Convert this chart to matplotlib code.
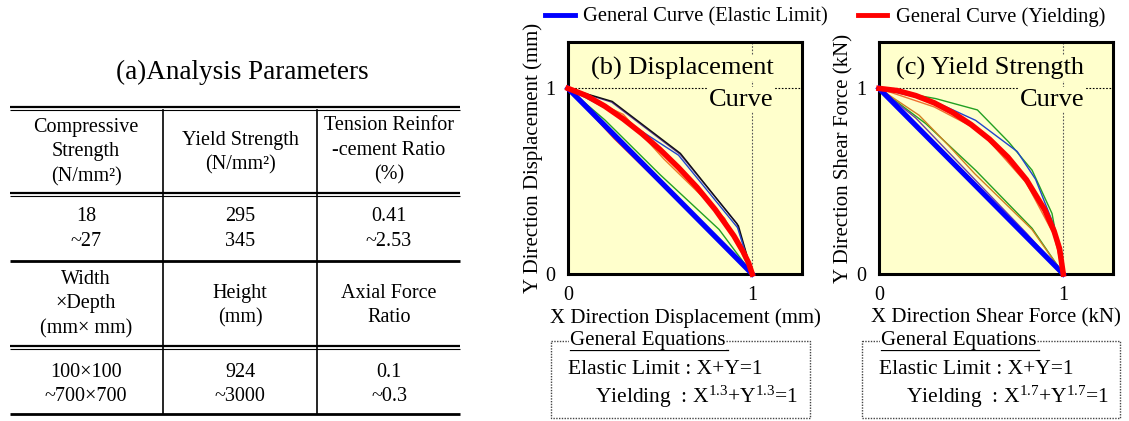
import matplotlib
matplotlib.use('Agg')
import matplotlib.pyplot as plt
from matplotlib.lines import Line2D
from matplotlib.patches import Rectangle

plt.rcParams['font.family'] = ['Liberation Serif', 'DejaVu Serif']
plt.rcParams['mathtext.fontset'] = 'custom'
plt.rcParams['mathtext.rm'] = 'Liberation Serif'
plt.rcParams['mathtext.it'] = 'Liberation Serif'

# ---- table data (a) ----
table_title = '(a)Analysis Parameters'
header_1 = ['Compressive\nStrength\n(N/mm²)', 'Yield Strength\n(N/mm²)', 'Tension Reinfor\n-cement Ratio\n(%)']
values_1 = ['18\n~27', '295\n345', '0.41\n~2.53']
header_2 = ['Width\n×Depth\n(mm× mm)', 'Height\n(mm)', 'Axial Force\nRatio']
values_2 = ['100×100\n~700×700', '924\n~3000', '0.1\n~0.3']

# ---- general curves ----
gen_x = [0.0, 0.1, 0.2, 0.3, 0.4, 0.5, 0.6, 0.7, 0.8, 0.9, 0.95, 0.98, 1.0]
elastic_y = [1.0, 0.9, 0.8, 0.7, 0.6, 0.5, 0.4, 0.3, 0.2, 0.1, 0.05, 0.02, 0.0]
yield_disp_y = [1.0, 0.961, 0.904, 0.835, 0.757, 0.670, 0.573, 0.467, 0.346, 0.206, 0.121, 0.060, 0.0]
yield_force_y = [1.0, 0.988, 0.961, 0.922, 0.870, 0.805, 0.726, 0.629, 0.508, 0.345, 0.232, 0.136, 0.0]

# ---- analysis results, displacement (b) ----
disp_lines = [
    ([0, 0.237, 0.609, 0.917, 1], [1, 0.926, 0.645, 0.272, 0], '#553399'),
    ([0, 0.24, 0.61, 0.925, 1], [1, 0.93, 0.65, 0.26, 0], '#111111'),
    ([0, 0.22, 0.60, 0.92, 1], [1, 0.885, 0.64, 0.25, 0], '#2244cc'),
    ([0, 0.20, 0.50, 0.82, 1], [1, 0.83, 0.535, 0.24, 0], '#22a022'),
    ([0, 0.25, 0.55, 0.88, 1], [1, 0.73, 0.44, 0.13, 0], '#ee3322'),
    ([0, 0.3, 0.52, 0.85, 1], [1, 0.86, 0.62, 0.30, 0], '#ee7722'),
]

# ---- analysis results, shear force (c) ----
force_lines = [
    ([0, 0.308, 0.534, 0.704, 0.831, 0.939, 1], [1, 0.945, 0.884, 0.711, 0.559, 0.326, 0], '#22a022'),
    ([0, 0.254, 0.524, 0.831, 1], [1, 0.81, 0.559, 0.246, 0], '#22a022'),
    ([0, 0.218, 0.38, 0.52, 0.83, 1], [1, 0.855, 0.69, 0.54, 0.24, 0], '#d08020'),
    ([0, 0.20, 0.50, 0.80, 1], [1, 0.84, 0.53, 0.22, 0], '#7040a0'),
    ([0, 0.30, 0.524, 0.75, 0.85, 0.95, 1], [1, 0.93, 0.828, 0.66, 0.51, 0.26, 0], '#2244cc'),
    ([0, 0.30, 0.55, 0.80, 0.95, 1], [1, 0.90, 0.77, 0.49, 0.21, 0], '#f07030'),
]

BG = '#FFFFCC'
W, H = 1129, 421

fig = plt.figure(figsize=(W / 100, H / 100), dpi=100)

# overlay axes in pixel coordinates for table and equation boxes
ov = fig.add_axes([0, 0, 1, 1])
ov.set_xlim(0, W)
ov.set_ylim(H, 0)
ov.axis('off')

ov.text(242, 72, table_title, fontsize=19.5, ha='center', va='center')

# table rules
for y, lw in [(106.5, 1.6), (109.5, 0.8), (193, 1.6), (196, 0.8), (261, 2.0),
              (345.5, 1.6), (348.5, 0.8), (414, 2.0)]:
    ov.plot([10, 460], [y, y], color='black', lw=lw, solid_capstyle='butt')
for x in [163, 317]:
    ov.plot([x, x], [109.5, 414], color='black', lw=1.2)

col_x = [86, 240, 389]
rows = [(header_1, [152, 152.5, 150.5]), (values_1, [229, 229, 229]),
        (header_2, [304, 305.5, 305.5]), (values_2, [384.5, 384.5, 384.5])]
for cells, ys in rows:
    for cx, cy, s in zip(col_x, ys, cells):
        ov.text(cx, cy, s, fontsize=14.5, ha='center', va='center', linespacing=1.4)


def draw_curve_panel(rect, lines, yield_y, title, ylabel, xlabel):
    ax = fig.add_axes(rect)
    ax.set_facecolor(BG)
    ax.set_xlim(0, 1.27)
    ax.set_ylim(0, 1.25)
    ax.axhline(1, color='black', lw=0.8, ls=(0, (1.5, 1.5)), zorder=1)
    ax.axvline(1, color='#555555', lw=0.8, ls=(0, (1.5, 1.5)), zorder=1)
    for xs, ys, c in lines:
        ax.plot(xs, ys, color=c, lw=1.0, zorder=2)
    ax.plot(gen_x, elastic_y, color='#0000FF', lw=3.8, zorder=3, clip_on=False)
    ax.plot(gen_x, yield_y, color='#FF0000', lw=4.0, zorder=4, clip_on=False)
    ax.text(1.115, 1.108, title[0], fontsize=19, ha='right', va='center', zorder=5,
            bbox=dict(facecolor=BG, edgecolor='none', pad=1))
    ax.text(1.115, 0.94, title[1], fontsize=19, ha='right', va='center', zorder=5,
            bbox=dict(facecolor=BG, edgecolor='none', pad=1))
    ax.set_xticks([0, 1])
    ax.set_yticks([0, 1])
    ax.set_xticklabels(['0', '1'])
    ax.set_yticklabels(['0', '1'])
    ax.tick_params(length=0, labelsize=14.5, pad=9)
    for sp in ax.spines.values():
        sp.set_linewidth(2.2)
    ax.set_xlabel(xlabel, fontsize=15, labelpad=2)
    ax.set_ylabel(ylabel, fontsize=15, labelpad=2)
    return ax


ax_b = draw_curve_panel([568 / W, 147 / H, 234 / W, 232 / H], disp_lines, yield_disp_y,
                        ['(b) Displacement', 'Curve'],
                        'Y Direction Displacement (mm)', 'X Direction Displacement (mm)')
ax_c = draw_curve_panel([879 / W, 147 / H, 234 / W, 232 / H], force_lines, yield_force_y,
                        ['(c) Yield Strength', 'Curve'],
                        'Y Direction Shear Force (kN)', 'X Direction Shear Force (kN)')

# legend
handles = [Line2D([], [], color='#0000FF', lw=3.5), Line2D([], [], color='#FF0000', lw=3.5)]
fig.legend(handles, ['General Curve (Elastic Limit)', 'General Curve (Yielding)'],
           loc='center left', bbox_to_anchor=(545 / W, 1 - 17 / H), ncol=2, frameon=False,
           fontsize=14.8, handlelength=1.45, handletextpad=0.4, columnspacing=1.45,
           borderpad=0, borderaxespad=0)

# general equation boxes
for left, right, exp in [(551, 810, '1.3'), (862, 1120, '1.7')]:
    ov.add_patch(Rectangle((left, 341), right - left, 77, fill=False, ec='#444444',
                           lw=1.0, ls=(0, (1, 1))))
    ov.text(left + 19, 340, 'General Equations', fontsize=15, ha='left', va='center',
            bbox=dict(facecolor='white', edgecolor='none', pad=0.5))
    ov.plot([left + 19, left + 177], [350, 350], color='black', lw=0.9)
    ov.text(left + 17, 369, 'Elastic Limit : X+Y=1', fontsize=15.5, ha='left', va='center')
    ov.text(left + 44, 397, 'Yielding  : X$^{%s}$+Y$^{%s}$=1' % (exp, exp),
            fontsize=15.5, ha='left', va='center')

fig.savefig('out.png', dpi=100)
